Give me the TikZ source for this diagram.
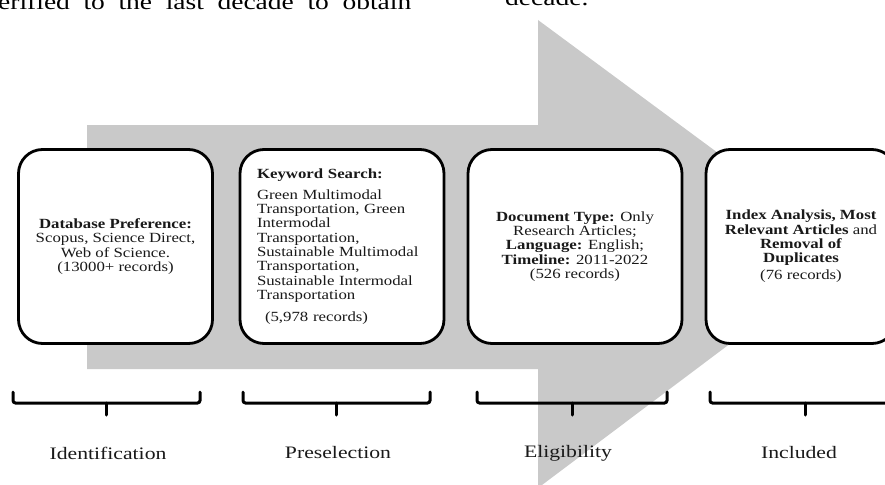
\documentclass[tikz,border=0pt]{standalone}
\usepackage{fontspec}
\setmainfont{Liberation Serif}[FakeStretch=1.2]
\newfontfamily\labelfont{Liberation Serif}[FakeStretch=1.24]
\newfontfamily\pagefont{Liberation Serif}[FakeStretch=1.25]
\definecolor{arrowgray}{RGB}{201,201,201}
\definecolor{ink}{RGB}{25,25,25}
\begin{document}
\begin{tikzpicture}[x=1pt,y=-1pt,
  box/.style={draw=black, line width=2.8pt, rounded corners=24pt, fill=white, inner sep=0pt, text=ink,
              font=\fontsize{14}{14.3}\selectfont},
  phase/.style={font=\labelfont\fontsize{17.5}{19}\selectfont, text=ink, inner sep=0pt},
  pagetext/.style={font=\pagefont\fontsize{22}{24}\selectfont, anchor=base west, inner sep=0pt},
  bracket/.style={line width=3pt, rounded corners=2.5pt, line cap=round}]
\clip (0,0) rectangle (885,484);
% big gray arrow
\fill[arrowgray] (87,125) -- (538,125) -- (538,20) -- (852,252) -- (538,488) -- (538,369) -- (87,369) -- cycle;
% cropped page text
\node[pagetext] (t1) at (-2,10) {\makebox[413pt][s]{erified to the last decade to obtain}};
\node[pagetext] (t2) at (505,6) {decade.};
% boxes
\node[box, minimum width=194pt, minimum height=194pt, align=center] (b1) at (115.5,246.5)
  {\textbf{Database Preference:}\\ Scopus, Science Direct,\\ Web of Science.\\ (13000+ records)};
\node[box, minimum width=204pt, minimum height=194pt, align=left, text width=170pt] (b2) at (342,246.5)
  {\textbf{Keyword Search:}\\[6.5pt]
   Green Multimodal\\ Transportation, Green\\ Intermodal\\ Transportation,\\ Sustainable Multimodal\\
   Transportation,\\ Sustainable Intermodal\\ Transportation\\[7.5pt]
   \hspace*{8pt}(5,978 records)};
\node[box, minimum width=214pt, minimum height=194pt, align=center] (b3) at (575,246.5)
  {\textbf{Document Type:} Only\\ Research Articles;\\ \textbf{Language:} English;\\ \textbf{Timeline:} 2011-2022\\ (526 records)};
\node[box, minimum width=190pt, minimum height=194pt, align=center] (b4) at (801,246.5)
  {\textbf{Index Analysis, Most}\\ \textbf{Relevant Articles} and\\ \textbf{Removal of}\\ \textbf{Duplicates}\\[3pt] (76 records)};
% brackets
\foreach \l/\r/\m in {13/200/106, 243/430/336, 477/667/572, 710/900/805}{
  \draw[bracket] (\l,392) -- (\l,403) -- (\r,403) -- (\r,392);
  \draw[line width=3pt, line cap=round] (\m,403) -- (\m,415);
}
% phase labels
\node[phase] (p1) at (108,453) {Identification};
\node[phase] (p2) at (338,453) {Preselection};
\node[phase] (p3) at (568,453) {Eligibility};
\node[phase] (p4) at (799,453) {Included};
\end{tikzpicture}
\end{document}
